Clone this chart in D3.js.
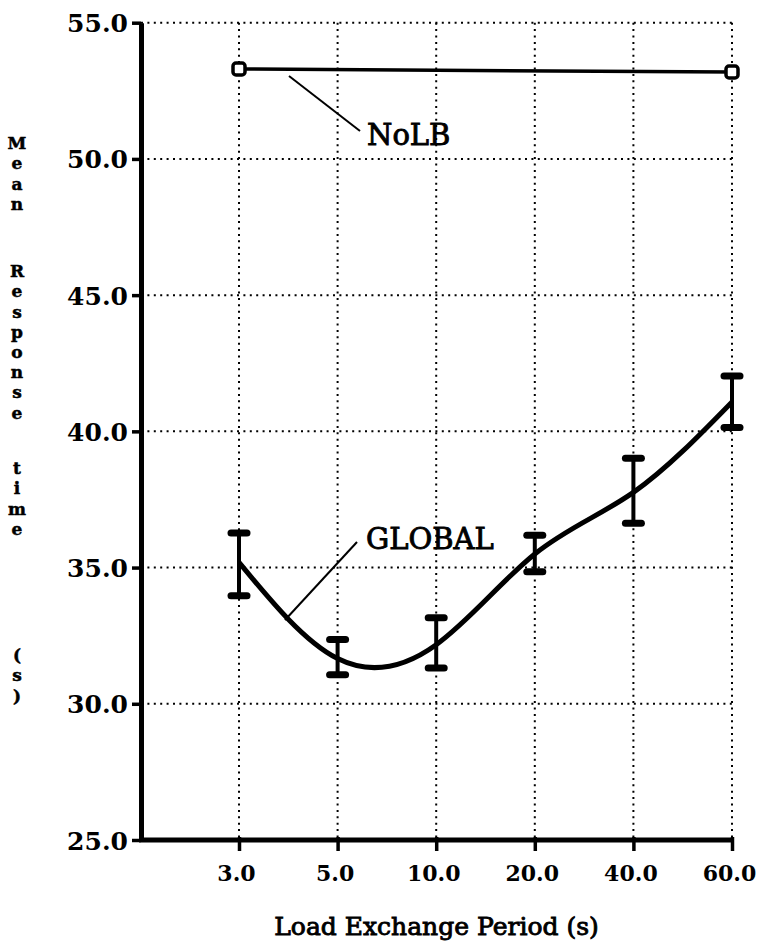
<!DOCTYPE html>
<html>
<head>
<meta charset="utf-8">
<script src="https://cdn.jsdelivr.net/npm/d3@7"></script>
<style>
  html, body { margin: 0; padding: 0; background: #fff; }
  svg { display: block; }
  .tick-label { font-family: "DejaVu Serif", serif; font-weight: bold; fill: #000; }
  .note { font-family: "DejaVu Serif", serif; font-size: 29px; fill: #000; stroke: #000; stroke-width: 0.9px; }
</style>
</head>
<body>
<div id="chart"></div>
<script>
// categories on the x axis (load exchange period, s)
const periods = ['3.0', '5.0', '10.0', '20.0', '40.0', '60.0'];

// GLOBAL: mean response time and error bar ends
const globalMean = [35.19, 31.66, 32.17, 35.50, 37.76, 41.08];
const globalLow  = [33.97, 31.07, 31.31, 34.85, 36.63, 40.14];
const globalHigh = [36.27, 32.36, 33.16, 36.19, 39.01, 42.03];

// NoLB: only measured at the two ends
const nolbPeriods = ['3.0', '60.0'];
const nolbMean = [53.30, 53.19];

const yTicks = [25, 30, 35, 40, 45, 50, 55];
const yTitleWords = ['Mean', 'Response', 'time', '(s)'];

const width = 758, height = 951;
const axisX = 141, axisY = 840, topY = 22.7;

const svg = d3.select('#chart').append('svg')
    .attr('width', width)
    .attr('height', height);

const x = d3.scalePoint()
    .domain(periods)
    .range([239, 732]);

const y = d3.scaleLinear()
    .domain([25, 55])
    .range([axisY, topY]);

const xRight = x.range()[1];

// dotted grid
const grid = svg.append('g')
    .attr('stroke', '#000')
    .attr('stroke-width', 2)
    .attr('stroke-dasharray', '2 4.4')
    .attr('fill', 'none');

grid.selectAll('.hgrid')
    .data(yTicks.filter(d => d > 25))
    .enter().append('line')
    .attr('x1', axisX)
    .attr('x2', xRight)
    .attr('y1', d => y(d))
    .attr('y2', d => y(d));

grid.selectAll('.vgrid')
    .data(periods)
    .enter().append('line')
    .attr('x1', d => x(d))
    .attr('x2', d => x(d))
    .attr('y1', topY)
    .attr('y2', axisY);

// left axis
const yAxis = svg.append('g')
    .attr('transform', `translate(${axisX},0)`)
    .call(d3.axisLeft(y).tickValues(yTicks).tickFormat(d3.format('.1f')).tickSize(9).tickSizeOuter(0).tickPadding(4));

yAxis.select('.domain').attr('stroke-width', 5);
yAxis.selectAll('.tick line').attr('stroke-width', 3.5);
yAxis.selectAll('.tick text')
    .attr('class', 'tick-label')
    .style('font-size', '25px')
    .attr('dy', '0.36em');

// bottom axis
const xAxis = svg.append('g')
    .attr('transform', `translate(0,${axisY})`)
    .call(d3.axisBottom(x).tickSize(11).tickPadding(14));

xAxis.select('.domain').remove();
xAxis.append('line')
    .attr('x1', axisX - 2)
    .attr('x2', xRight + 1)
    .attr('stroke', '#000')
    .attr('stroke-width', 5);
xAxis.selectAll('.tick line').attr('stroke-width', 3.5).attr('y1', -3);
xAxis.selectAll('.tick text')
    .attr('class', 'tick-label')
    .style('font-size', '22px')
    .attr('x', -3);

// axis titles
svg.append('text')
    .attr('x', (axisX + xRight) / 2)
    .attr('y', 935)
    .attr('text-anchor', 'middle')
    .style('font-family', '"DejaVu Serif", serif')
    .style('font-size', '25px')
    .style('stroke', '#000')
    .style('stroke-width', '0.9px')
    .text('Load Exchange Period (s)');

// vertical y title, one letter per line
const wordStart = [143, 271, 468, 655];
const lineStep = 20.2;
const yTitle = svg.append('g')
    .style('font-family', '"DejaVu Serif", serif')
    .style('font-weight', 'bold')
    .style('font-size', '17px')
    .style('stroke', '#000')
    .style('stroke-width', '0.5px')
    .attr('text-anchor', 'middle');

yTitleWords.forEach((w, i) => {
    w.split('').forEach((ch, j) => {
        yTitle.append('text')
            .attr('x', 17)
            .attr('y', wordStart[i] + j * lineStep)
            .attr('dy', '0.36em')
            .text(ch);
    });
});

// NoLB line and markers
const nolb = nolbPeriods.map((p, i) => ({ p, v: nolbMean[i] }));

svg.append('path')
    .datum(nolb)
    .attr('fill', 'none')
    .attr('stroke', '#000')
    .attr('stroke-width', 3.5)
    .attr('d', d3.line().x(d => x(d.p)).y(d => y(d.v)));

svg.selectAll('.nolb-mark')
    .data(nolb)
    .enter().append('rect')
    .attr('x', d => x(d.p) - 6)
    .attr('y', d => y(d.v) - 6)
    .attr('width', 12)
    .attr('height', 12)
    .attr('rx', 3)
    .attr('fill', '#fff')
    .attr('stroke', '#000')
    .attr('stroke-width', 3.5);

// GLOBAL smooth curve
const glob = periods.map((p, i) => ({ p, m: globalMean[i], lo: globalLow[i], hi: globalHigh[i] }));

svg.append('path')
    .datum(glob)
    .attr('fill', 'none')
    .attr('stroke', '#000')
    .attr('stroke-width', 5)
    .attr('d', d3.line().curve(d3.curveNatural).x(d => x(d.p)).y(d => y(d.m)));

// error bars
const bars = svg.append('g')
    .attr('stroke', '#000')
    .attr('stroke-linecap', 'round');

bars.selectAll('.stem')
    .data(glob)
    .enter().append('line')
    .attr('x1', d => x(d.p))
    .attr('x2', d => x(d.p))
    .attr('y1', d => y(d.hi))
    .attr('y2', d => y(d.lo))
    .attr('stroke-width', 4);

bars.selectAll('.cap')
    .data(glob.flatMap(d => [{ p: d.p, v: d.hi }, { p: d.p, v: d.lo }]))
    .enter().append('line')
    .attr('x1', d => x(d.p) - 8)
    .attr('x2', d => x(d.p) + 8)
    .attr('y1', d => y(d.v))
    .attr('y2', d => y(d.v))
    .attr('stroke-width', 7);

// annotations
svg.append('line')
    .attr('x1', 289).attr('y1', 76)
    .attr('x2', 360).attr('y2', 131)
    .attr('stroke', '#000').attr('stroke-width', 2);
svg.append('text')
    .attr('class', 'note')
    .attr('x', 367).attr('y', 145)
    .text('NoLB');

svg.append('line')
    .attr('x1', 357).attr('y1', 542)
    .attr('x2', 285).attr('y2', 620)
    .attr('stroke', '#000').attr('stroke-width', 2);
svg.append('text')
    .attr('class', 'note')
    .attr('x', 366).attr('y', 549)
    .text('GLOBAL');
</script>
</body>
</html>
